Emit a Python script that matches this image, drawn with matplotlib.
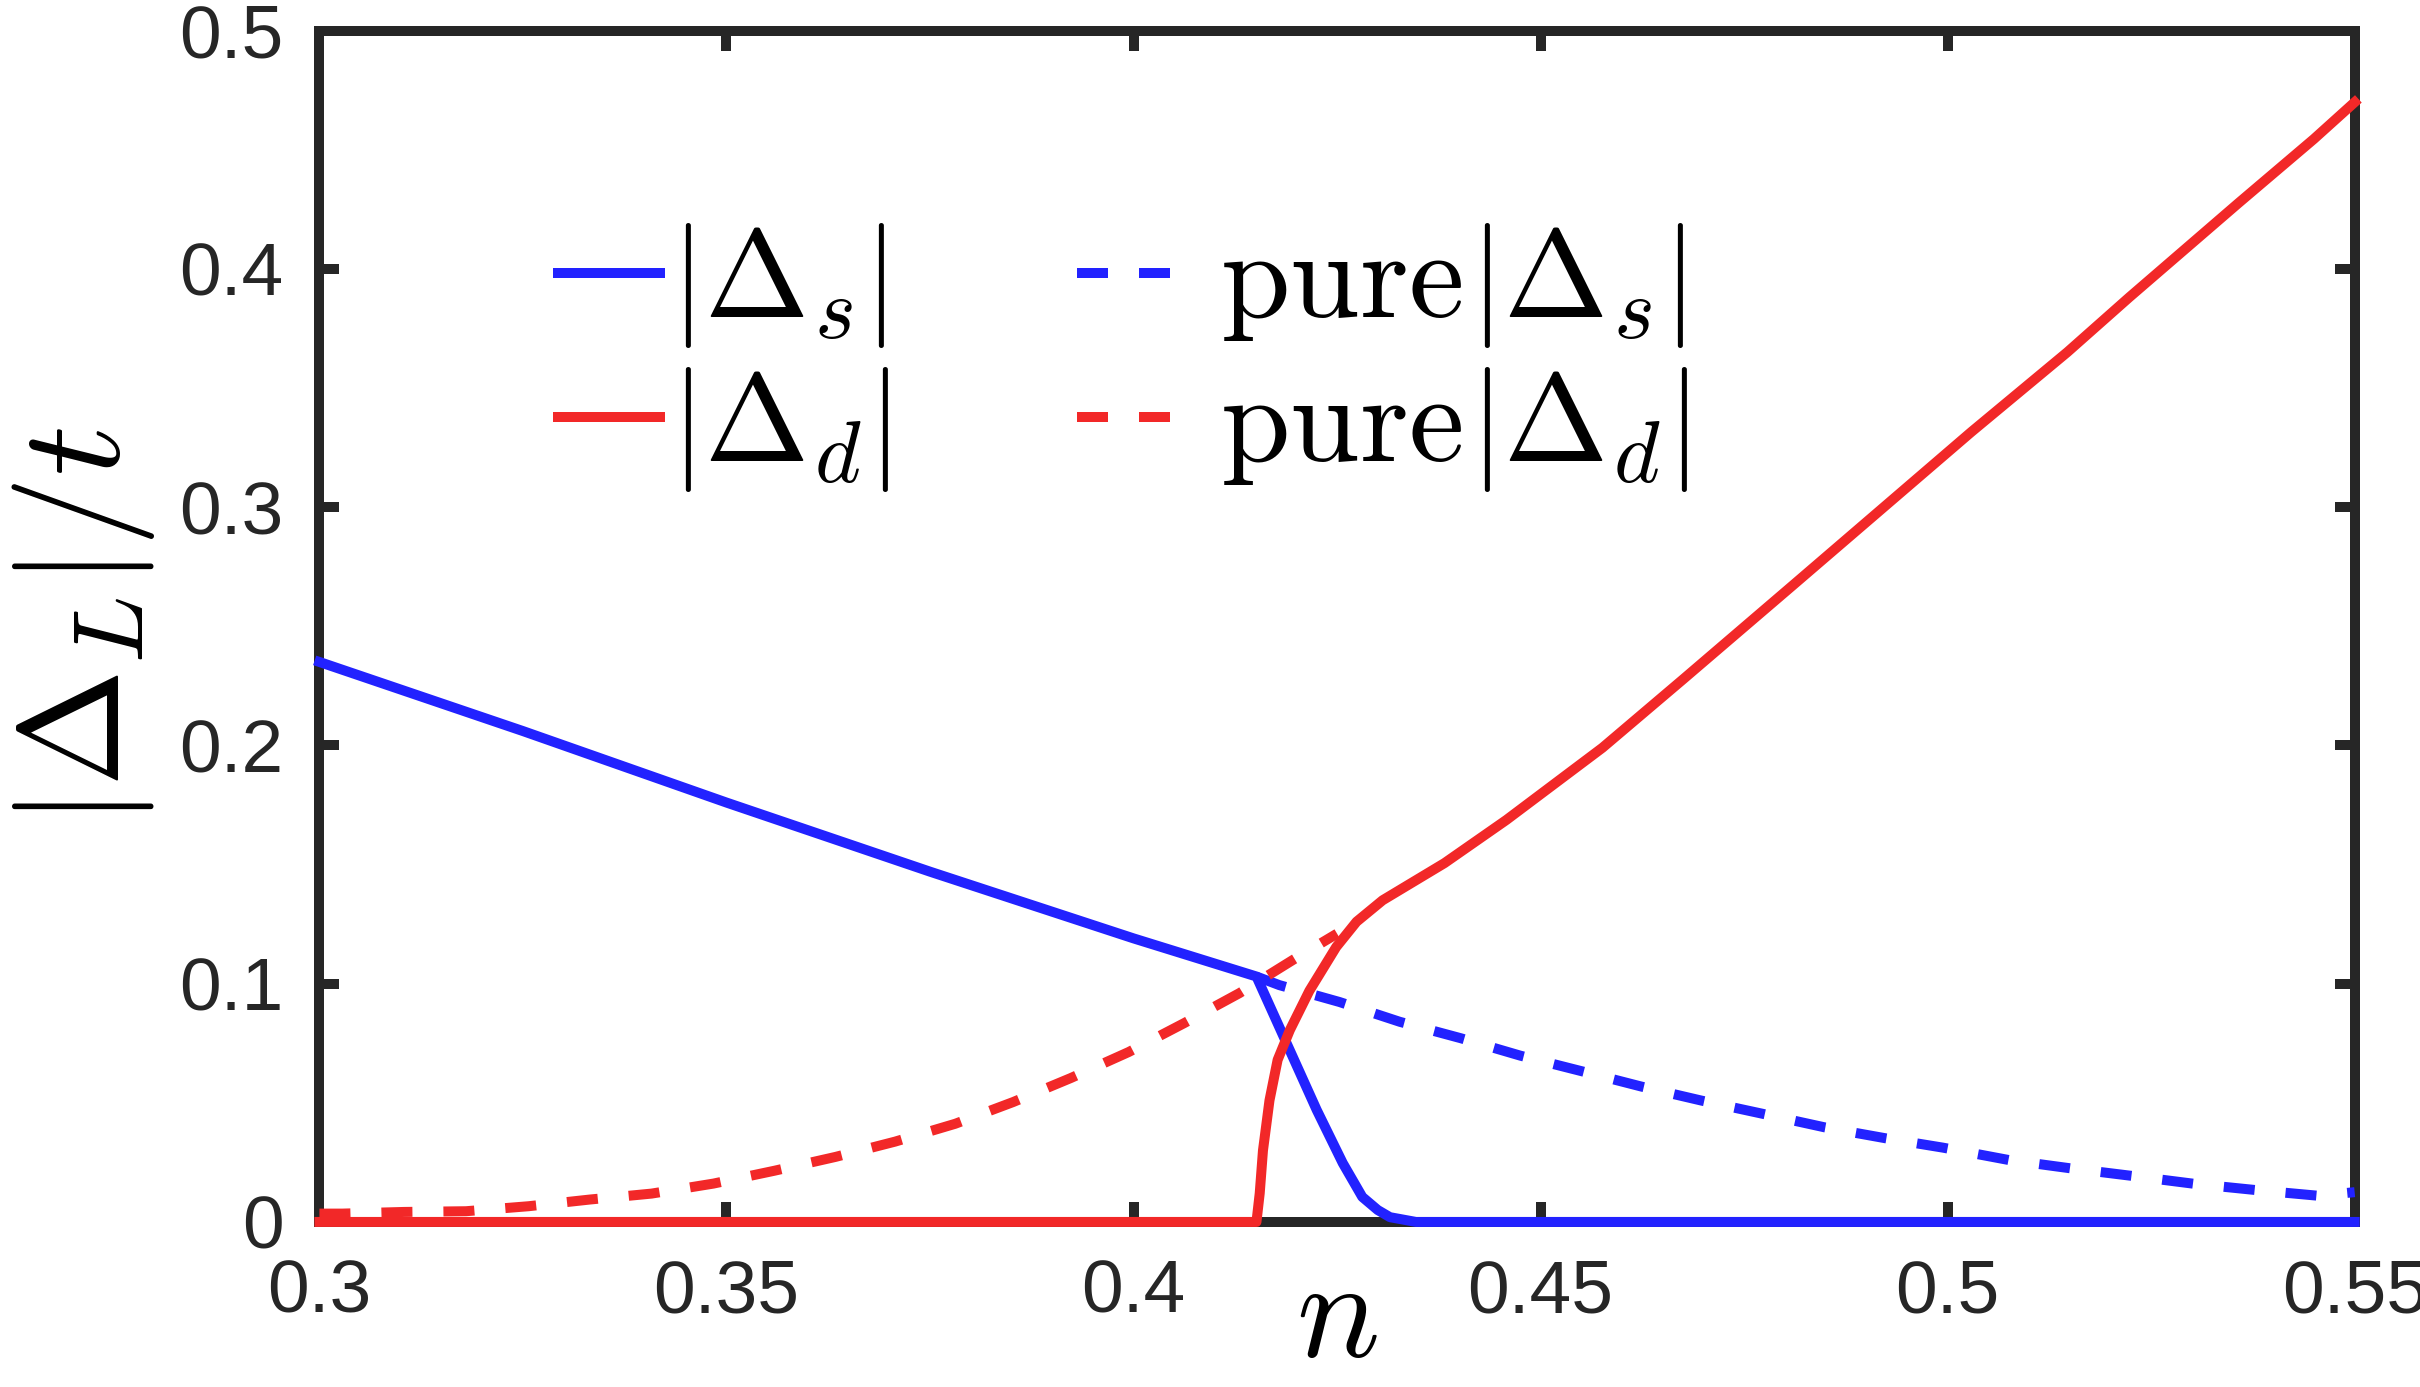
import numpy as np
import matplotlib
matplotlib.use("Agg")
import matplotlib.pyplot as plt

plt.rcParams['font.family'] = ['Liberation Sans', 'DejaVu Sans']
plt.rcParams['mathtext.fontset'] = 'cm'

# |Delta_s| (solid blue)
n_s = [0.300, 0.325, 0.350, 0.375, 0.400, 0.4151, 0.4192, 0.4225, 0.4257,
       0.4281, 0.4300, 0.4315, 0.4347, 0.550]
gap_s = [0.235, 0.206, 0.176, 0.147, 0.119, 0.1030, 0.072, 0.047, 0.0247,
         0.0105, 0.005, 0.002, 0.0, 0.0]

# |Delta_d| (solid red)
n_d = [0.300, 0.4151, 0.4155, 0.4159, 0.4167, 0.4177, 0.4192, 0.4216, 0.4249,
       0.4274, 0.4306, 0.4382, 0.4458, 0.4576, 0.4676, 0.4811, 0.4920,
       0.5029, 0.5147, 0.5223, 0.5357, 0.5450, 0.550]
gap_d = [0.0, 0.0, 0.012, 0.030, 0.051, 0.068, 0.0805, 0.097, 0.1154,
         0.126, 0.135, 0.1506, 0.1687, 0.199, 0.2280, 0.2675, 0.2995,
         0.3315, 0.3650, 0.3880, 0.4275, 0.4545, 0.4699]

# pure |Delta_s| (dashed blue), visible part
n_ps = [0.4151, 0.4179, 0.4253, 0.4327, 0.4402, 0.4475, 0.4550, 0.4624,
        0.4698, 0.4774, 0.4849, 0.4924, 0.4994, 0.5075, 0.5151, 0.5227,
        0.5303, 0.5378, 0.5455, 0.550]
gap_ps = [0.1030, 0.0994, 0.0923, 0.0840, 0.0771, 0.0698, 0.0633, 0.0568,
          0.0509, 0.0453, 0.0397, 0.0351, 0.0312, 0.0260, 0.0225, 0.0193,
          0.0160, 0.0134, 0.0110, 0.0125]

# pure |Delta_d| (dashed red), visible part
n_pd = [0.300, 0.3028, 0.3104, 0.3180, 0.3257, 0.3332, 0.3408, 0.3484,
        0.3559, 0.3634, 0.3707, 0.3781, 0.3852, 0.3923, 0.3994, 0.4062,
        0.4130, 0.4196, 0.4250]
gap_pd = [0.0035, 0.0035, 0.0042, 0.0045, 0.0066, 0.0094, 0.0119, 0.0161,
          0.0215, 0.0273, 0.0337, 0.0412, 0.0503, 0.0604, 0.0713, 0.0834,
          0.0960, 0.1100, 0.1210]

blue = '#2222ff'
red = '#f22828'
dark = '#262626'
lw = 7.2

fig = plt.figure(figsize=(24.2, 13.87), dpi=100)
ax = fig.add_axes([0.132, 0.119, 0.841, 0.859])

l_ps, = ax.plot(n_ps, gap_ps, color=blue, lw=lw, dashes=(3.1, 3.1),
                clip_on=False, zorder=3)
l_pd, = ax.plot(n_pd, gap_pd, color=red, lw=lw, dashes=(3.1, 3.1),
                clip_on=False, zorder=3)
l_s, = ax.plot(n_s, gap_s, color=blue, lw=lw, clip_on=False, zorder=4)
l_d, = ax.plot(n_d, gap_d, color=red, lw=lw, clip_on=False, zorder=5)

ax.set_xlim(0.3, 0.55)
ax.set_ylim(0, 0.5)
ax.set_xticks([0.3, 0.35, 0.4, 0.45, 0.5, 0.55])
ax.set_xticklabels(['0.3', '0.35', '0.4', '0.45', '0.5', '0.55'])
ax.set_yticks([0, 0.1, 0.2, 0.3, 0.4, 0.5])
ax.set_yticklabels(['0', '0.1', '0.2', '0.3', '0.4', '0.5'])

for sp in ax.spines.values():
    sp.set_linewidth(7.2)
    sp.set_color(dark)
ax.tick_params(direction='in', length=14.4, width=7.2, color=dark,
               labelsize=54, labelcolor=dark, pad=26,
               top=True, right=True)

ax.set_xlabel(r'$n$', fontsize=100, labelpad=-52)
ax.set_ylabel(r'$|\Delta_L|/t$', fontsize=102, labelpad=16)

# column-wise fill: col 1 = solid, col 2 = pure
ax.legend([l_s, l_d, l_ps, l_pd],
          [r'$|\Delta_s|$', r'$|\Delta_d|$',
           r'$\;\mathrm{pure}\hspace{0.05}|\Delta_s|$',
           r'$\;\mathrm{pure}\hspace{0.05}|\Delta_d|$'],
          ncol=2, loc='upper left', bbox_to_anchor=(0.117, 0.840),
          frameon=False, fontsize=90, borderpad=0, borderaxespad=0,
          handlelength=0.82, handletextpad=0.08, columnspacing=1.5,
          labelspacing=0.12)

fig.savefig('out.png', dpi=100)
